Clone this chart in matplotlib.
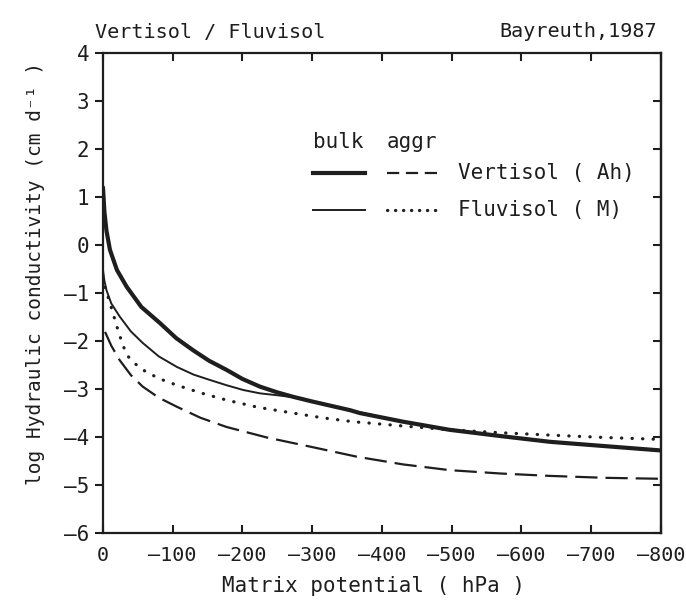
import matplotlib.pyplot as plt
from matplotlib.ticker import MultipleLocator, FuncFormatter

plt.rcParams['font.family'] = ['DejaVu Sans Mono', 'DejaVu Sans']

# Vertisol (Ah), bulk soil
vert_bulk_x = [0, -1, -2, -5, -10, -20, -34, -55, -82, -105, -129, -152, -177, -200, -225, -250, -272, -300, -354, -368, -430, -497, -570, -641, -720, -800]
vert_bulk_y = [1.2, 0.95, 0.7, 0.3, -0.1, -0.52, -0.87, -1.29, -1.63, -1.94, -2.19, -2.41, -2.6, -2.79, -2.95, -3.07, -3.16, -3.26, -3.44, -3.5, -3.68, -3.85, -3.98, -4.1, -4.19, -4.28]

# Fluvisol (M), bulk soil
fluv_bulk_x = [0, -2, -5, -12, -24, -40, -57, -80, -106, -130, -153, -177, -201, -225, -250, -272, -300, -354, -430, -497, -570, -641, -720, -800]
fluv_bulk_y = [-0.52, -0.74, -0.94, -1.22, -1.49, -1.8, -2.04, -2.32, -2.54, -2.7, -2.81, -2.92, -3.02, -3.09, -3.13, -3.17, -3.26, -3.44, -3.68, -3.85, -3.98, -4.1, -4.19, -4.28]

# Vertisol (Ah), aggregates
vert_aggr_x = [-3, -12, -24, -40, -57, -80, -106, -140, -177, -235, -297, -364, -430, -497, -570, -641, -720, -800]
vert_aggr_y = [-1.81, -2.1, -2.4, -2.71, -2.95, -3.18, -3.37, -3.6, -3.79, -4.01, -4.2, -4.41, -4.57, -4.69, -4.76, -4.81, -4.85, -4.87]

# Fluvisol (M), aggregates
fluv_aggr_x = [-3, -10, -20, -27, -34, -45, -57, -80, -106, -140, -177, -222, -272, -315, -358, -430, -497, -570, -641, -720, -800]
fluv_aggr_y = [-0.88, -1.21, -1.7, -2.02, -2.29, -2.46, -2.6, -2.78, -2.92, -3.08, -3.23, -3.38, -3.5, -3.6, -3.68, -3.77, -3.85, -3.91, -3.96, -4.01, -4.05]

ink = '#1e1e1e'
fs = 15


def dash_fmt(v, pos):
    return f'{v:.0f}'.replace('-', '\u2013')


fig = plt.figure(figsize=(6.86, 6.01), dpi=100)
ax = fig.add_axes([0.1501, 0.1131, 0.8134, 0.7987])

ax.plot(vert_bulk_x, vert_bulk_y, color=ink, lw=3.0, solid_capstyle='round')
ax.plot(fluv_bulk_x, fluv_bulk_y, color=ink, lw=1.4)
ax.plot(vert_aggr_x, vert_aggr_y, color=ink, lw=1.6, dashes=(10, 3.6))
ax.plot(fluv_aggr_x, fluv_aggr_y, color=ink, lw=2.3, dashes=(0.1, 3.2), dash_capstyle='round')

ax.set_xlim(0, -800)
ax.set_ylim(-6, 4)
ax.xaxis.set_major_locator(MultipleLocator(100))
ax.yaxis.set_major_locator(MultipleLocator(1))
ax.xaxis.set_major_formatter(FuncFormatter(dash_fmt))
ax.yaxis.set_major_formatter(FuncFormatter(dash_fmt))
ax.tick_params(axis='x', direction='in', top=True, length=5.5, width=1.5,
               labelsize=14.5, colors=ink, pad=9)
ax.tick_params(axis='y', direction='out', right=False, length=6, width=1.5,
               labelsize=fs, colors=ink, pad=4)

right = ax.secondary_yaxis('right')
right.yaxis.set_major_locator(MultipleLocator(1))
right.tick_params(direction='in', length=5.5, width=1.5, labelright=False, colors=ink)
right.spines['right'].set_linewidth(1.6)
right.spines['right'].set_color(ink)

for s in ax.spines.values():
    s.set_linewidth(1.6)
    s.set_color(ink)

ax.set_xlabel('Matrix potential ( hPa )', fontsize=fs, color=ink)
ax.xaxis.set_label_coords(0.484, -0.09)
ax.set_ylabel('log Hydraulic conductivity (cm d\u207b\u00b9 )', fontsize=14, color=ink)
ax.yaxis.set_label_coords(-0.104, 0.54)

fig.text(95 / 686, 1 - 38 / 601, 'Vertisol / Fluvisol', fontsize=14.5, color=ink,
         va='baseline')
fig.text(657 / 686, 1 - 37 / 601, 'Bayreuth,1987', fontsize=14.5, color=ink,
         ha='right', va='baseline')

# legend block
t = ax.transAxes
ax.text(0.376, 0.802, 'bulk', transform=t, fontsize=fs, color=ink, va='baseline')
ax.text(0.509, 0.802, 'aggr', transform=t, fontsize=fs, color=ink, va='baseline')
ax.plot([0.376, 0.470], [0.75, 0.75], transform=t, color=ink, lw=3.0)
ax.plot([0.509, 0.604], [0.75, 0.75], transform=t, color=ink, lw=1.6, dashes=(5.5, 3))
ax.text(0.636, 0.75, 'Vertisol ( Ah)', transform=t, fontsize=fs, color=ink, va='center')
ax.plot([0.376, 0.470], [0.673, 0.673], transform=t, color=ink, lw=1.4)
ax.plot([0.509, 0.604], [0.673, 0.673], transform=t, color=ink, lw=2.3,
        dashes=(0.1, 2.4), dash_capstyle='round')
ax.text(0.636, 0.673, 'Fluvisol ( M)', transform=t, fontsize=fs, color=ink, va='center')

fig.savefig('out.png', dpi=100)
